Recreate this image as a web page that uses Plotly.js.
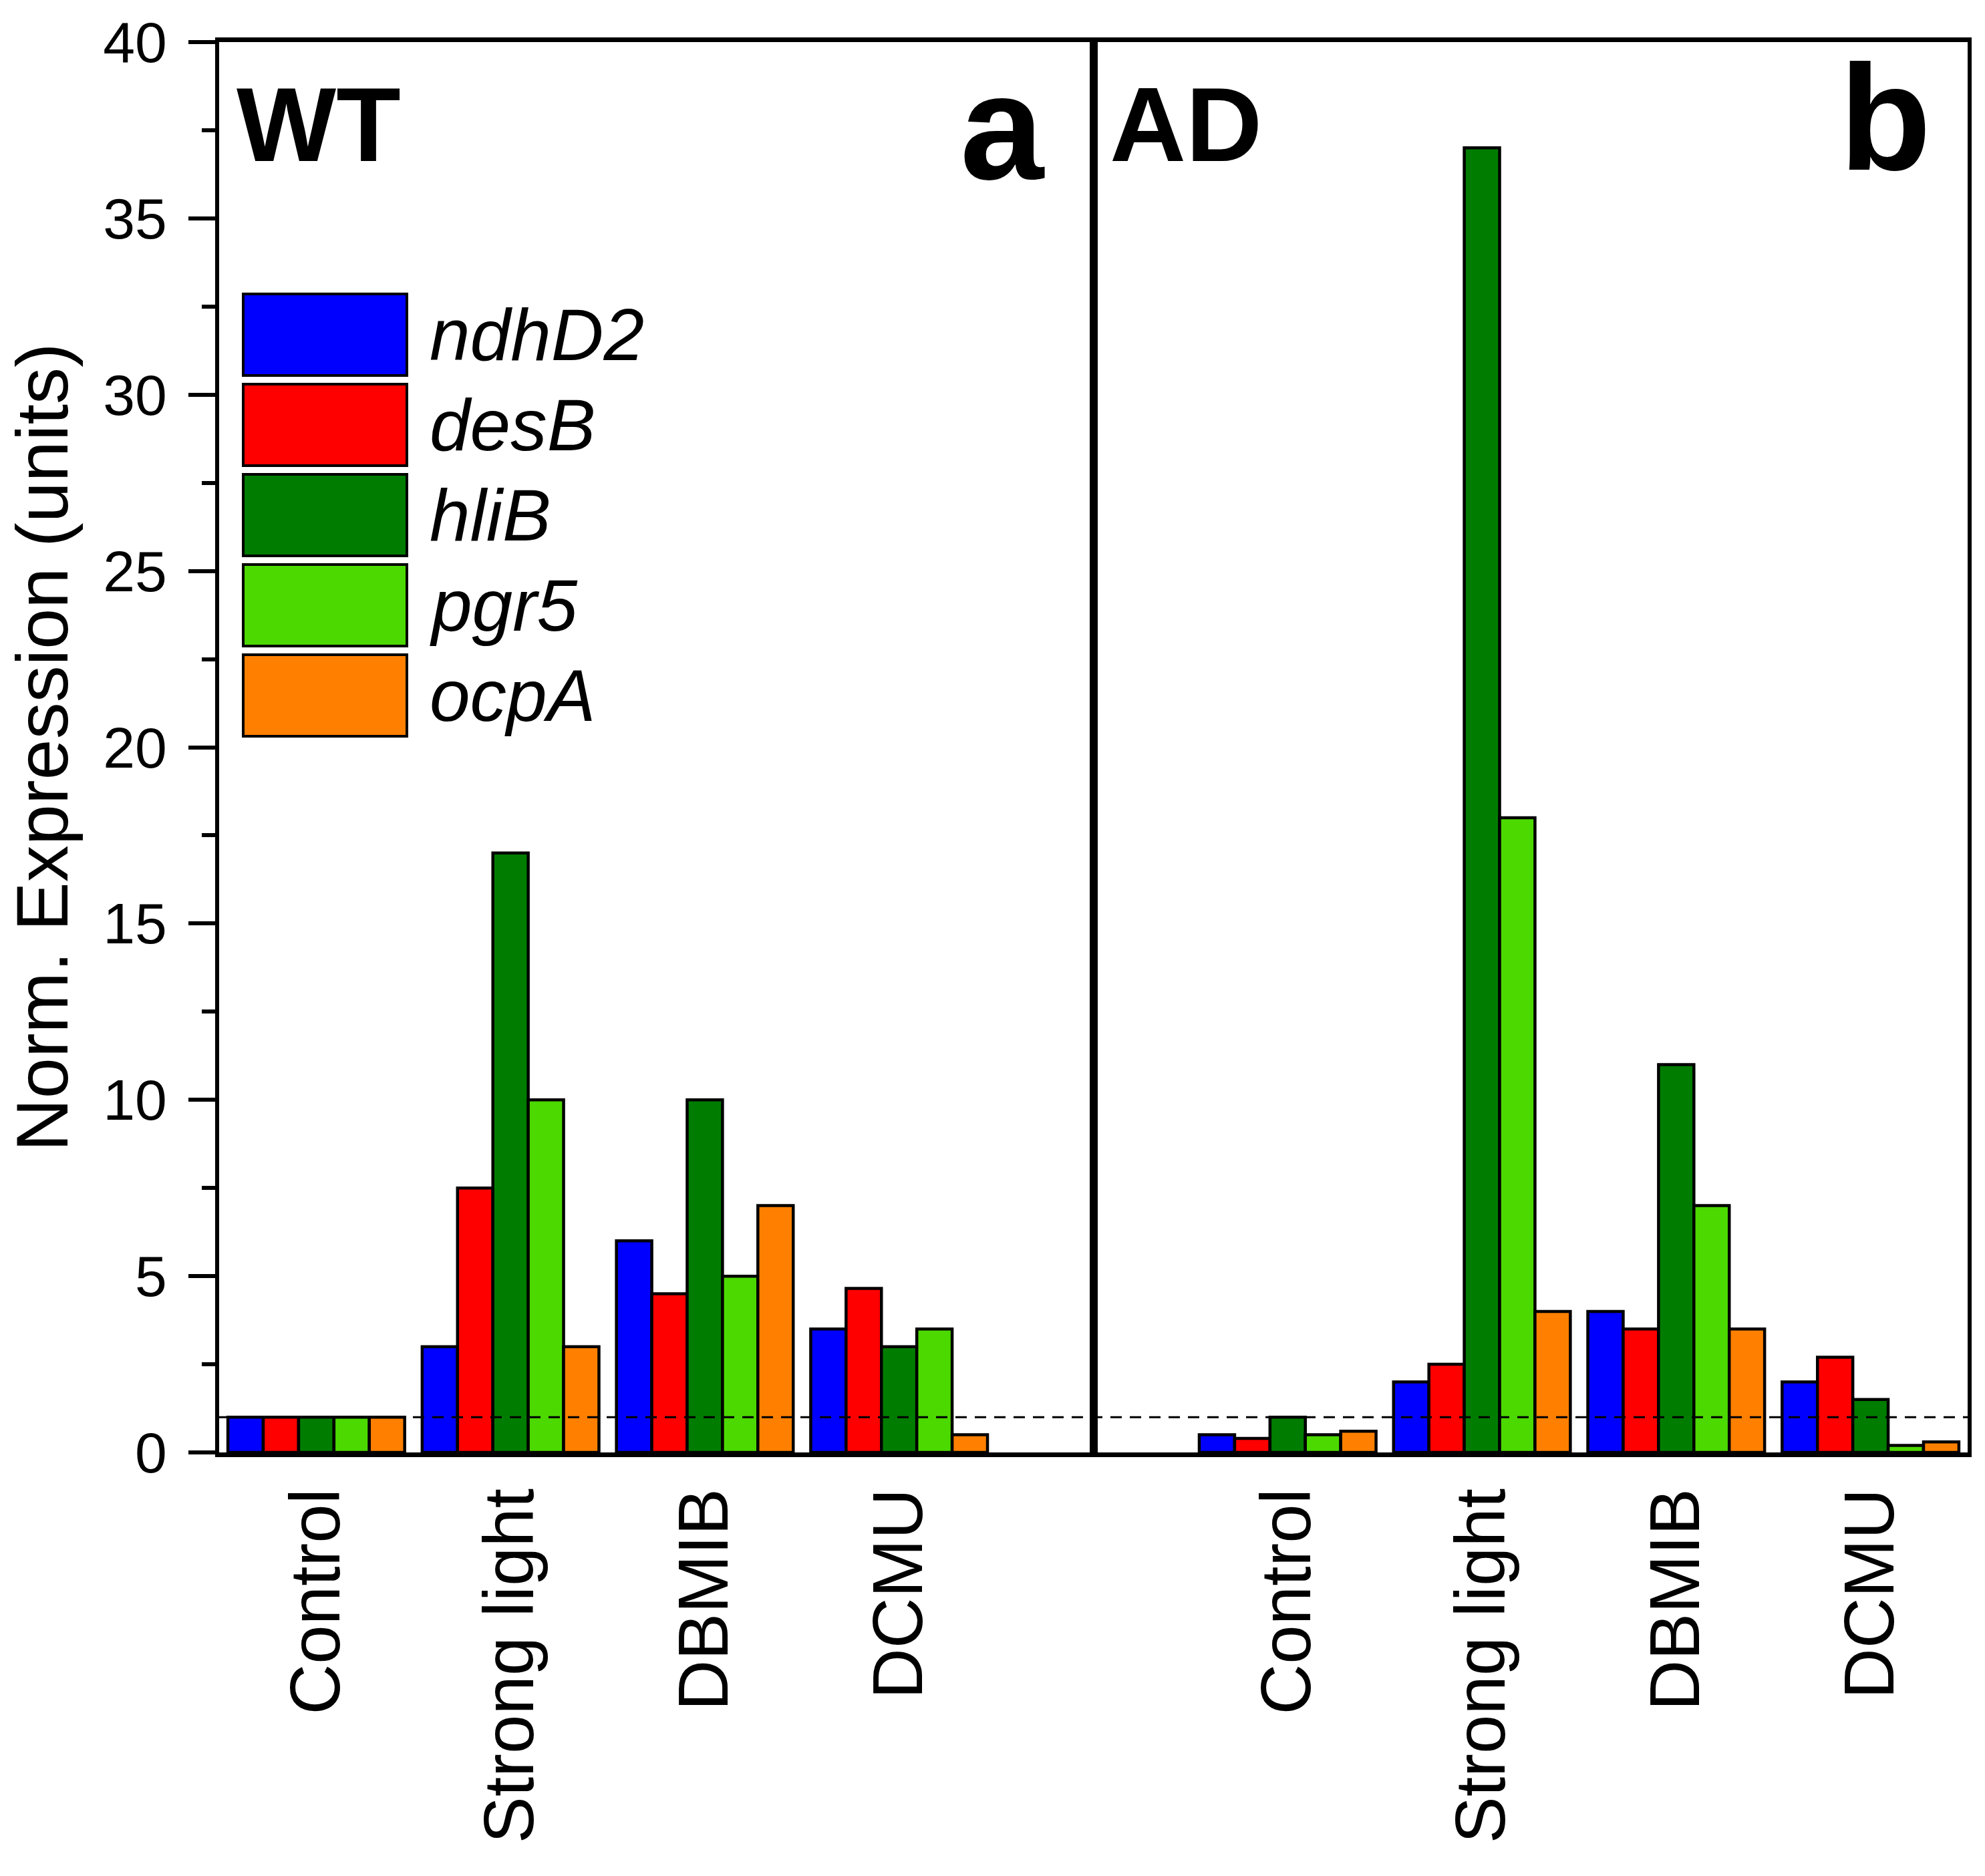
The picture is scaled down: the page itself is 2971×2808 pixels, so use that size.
<!DOCTYPE html>
<html>
<head>
<meta charset="utf-8">
<script src="https://cdn.plot.ly/plotly-3.0.1.min.js"></script>
<style>
  html, body { margin: 0; padding: 0; background: #fff; }
  #chart { width: 2971px; height: 2808px; }
</style>
</head>
<body>
<div id="chart"></div>
<script>
// Dati: espressione normalizzata per gene e trattamento.
const treatments = ['Control', 'Strong light', 'DBMIB', 'DCMU'];
const genes = ['ndhD2', 'desB', 'hliB', 'pgr5', 'ocpA'];
const geneColors = ['#0000FF', '#FF0000', '#007D00', '#4CD900', '#FF8000'];

// pannello a: WT
const wtNdhD2 = [1, 3, 6, 3.5];
const wtDesB = [1, 7.5, 4.5, 4.65];
const wtHliB = [1, 17, 10, 3];
const wtPgr5 = [1, 10, 5, 3.5];
const wtOcpA = [1, 3, 7, 0.5];

// pannello b: AD
const adNdhD2 = [0.5, 2, 4, 2];
const adDesB = [0.4, 2.5, 3.5, 2.7];
const adHliB = [1, 37, 11, 1.5];
const adPgr5 = [0.5, 18, 7, 0.2];
const adOcpA = [0.6, 4, 3.5, 0.3];

const baseline = 1;

const wtSeries = [wtNdhD2, wtDesB, wtHliB, wtPgr5, wtOcpA];
const adSeries = [adNdhD2, adDesB, adHliB, adPgr5, adOcpA];

const FONT = 'Liberation Sans, Arial, sans-serif';
const W = 2971, H = 2808;
const M = { l: 328, r: 26, t: 63, b: 634 };
const plotW = W - M.l - M.r, plotH = H - M.t - M.b;
// pixel -> paper
const px = x => (x - M.l) / plotW;
const py = y => (H - M.b - y) / plotH;

function barTrace(name, values, i, xa, ya) {
    return {
        type: 'bar',
        name: name,
        x: treatments,
        y: values,
        xaxis: xa,
        yaxis: ya,
        marker: { color: geneColors[i], line: { color: '#000', width: 4.5 } },
        showlegend: false,
        hovertemplate: `${name} %{x}: %{y}<extra></extra>`,
    };
}

const data = [
    ...wtSeries.map((s, i) => barTrace(genes[i], s, i, 'x', 'y')),
    ...adSeries.map((s, i) => barTrace(genes[i], s, i, 'x2', 'y2')),
];

const xCommon = {
    type: 'category',
    categoryorder: 'array',
    categoryarray: treatments,
    showline: true, linecolor: '#000', linewidth: 7, mirror: true,
    ticks: '', tickangle: -90, ticklabelstandoff: 5,
    tickfont: { family: FONT, size: 105, color: '#000' },
    showgrid: false, zeroline: false,
};

// legenda disegnata a mano: riquadri grandi come nell'originale
const shapes = [{
    type: 'line', xref: 'paper', yref: 'y', x0: 0, x1: 1, y0: baseline, y1: baseline,
    line: { color: '#000', width: 3, dash: '17px,12px' }, layer: 'above',
}];
const annotations = [];
genes.forEach((g, i) => {
    const top = 440 + i * 135;
    shapes.push({
        type: 'rect', xref: 'paper', yref: 'paper',
        x0: px(364), x1: px(609), y0: py(top + 122), y1: py(top),
        fillcolor: geneColors[i], line: { color: '#000', width: 4 },
    });
    annotations.push({
        xref: 'paper', yref: 'paper', x: px(641), y: py(top + 61),
        xanchor: 'left', yanchor: 'middle', showarrow: false,
        text: `<i>${g}</i>`, font: { family: FONT, size: 109, color: '#000' },
    });
});

const panelLabel = (text, x, y, xanchor, size) => ({
    xref: 'paper', yref: 'paper', x: px(x), y: py(y), xanchor: xanchor, yanchor: 'middle',
    showarrow: false, text: `<b>${text}</b>`, font: { family: FONT, size: size, color: '#000' },
});
annotations.push(panelLabel('WT', 352, 186, 'left', 158));
annotations.push(panelLabel('a', 1566, 190, 'right', 225));
annotations.push(panelLabel('AD', 1659, 186, 'left', 158));
annotations.push(panelLabel('b', 2892, 176, 'right', 225));

const layout = {
    width: W, height: H,
    margin: { ...M, pad: 0 },
    paper_bgcolor: '#fff', plot_bgcolor: '#fff',
    barmode: 'group', bargap: 0.09, bargroupgap: 0,
    xaxis: { ...xCommon, domain: [0, 0.5], range: [-0.5, 4], anchor: 'y' },
    xaxis2: { ...xCommon, domain: [0.5, 1], range: [-1, 3.5], anchor: 'y2' },
    yaxis: {
        range: [0, 40], dtick: 5, anchor: 'x',
        showline: true, linecolor: '#000', linewidth: 6, mirror: true,
        ticks: 'outside', ticklen: 40, tickwidth: 6, tickcolor: '#000', ticklabelstandoff: 15,
        minor: { dtick: 2.5, ticks: 'outside', ticklen: 20, tickwidth: 6, tickcolor: '#000' },
        tickfont: { family: FONT, size: 86, color: '#000' },
        showgrid: false, zeroline: false,
        title: { text: 'Norm. Expression (units)', font: { family: FONT, size: 110, color: '#000' }, standoff: 18 },
    },
    yaxis2: {
        range: [0, 40], matches: 'y', anchor: 'x2',
        showline: true, linecolor: '#000', linewidth: 6, mirror: true,
        ticks: '', showticklabels: false, showgrid: false, zeroline: false,
    },
    shapes: shapes,
    annotations: annotations,
    showlegend: false,
};

Plotly.newPlot('chart', data, layout, { displayModeBar: false, responsive: false });
</script>
</body>
</html>
